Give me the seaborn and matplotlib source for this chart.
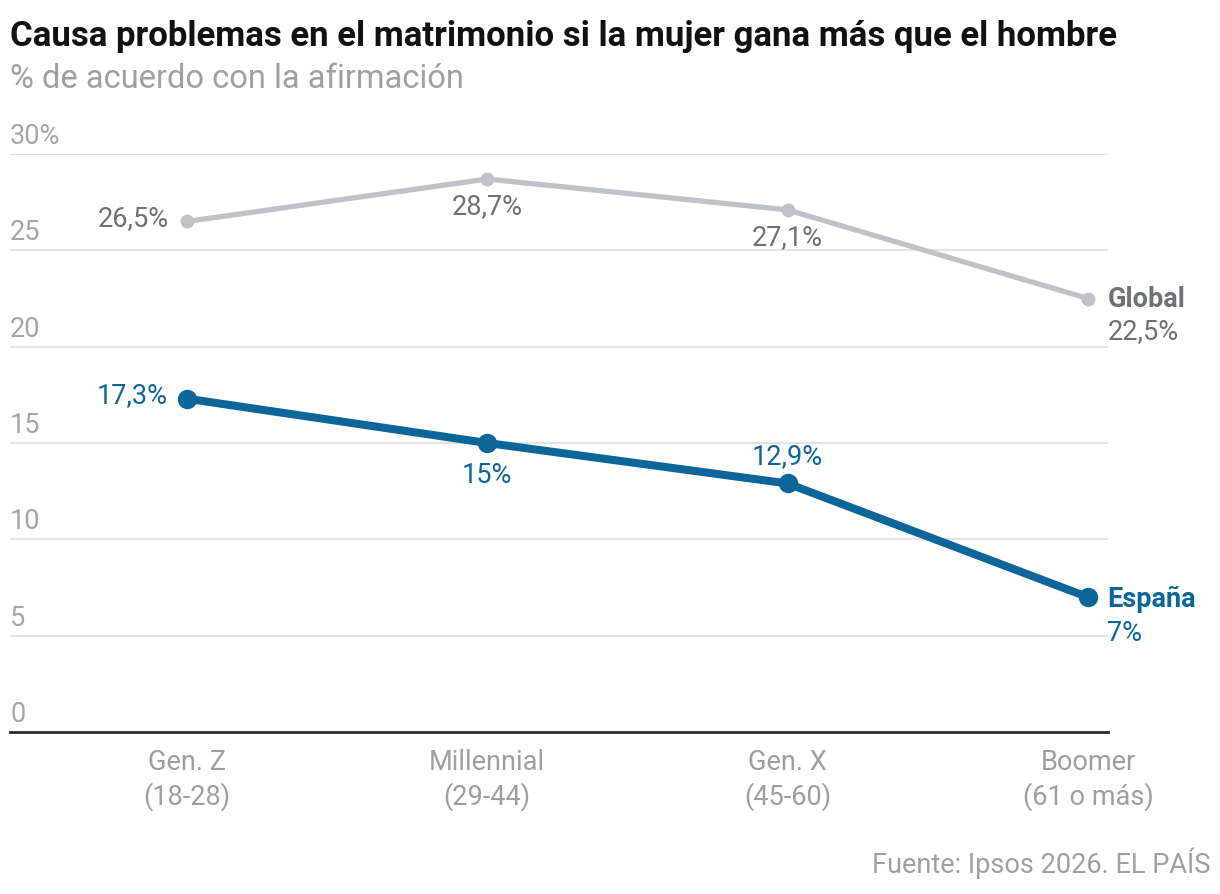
import matplotlib.pyplot as plt
import matplotlib.transforms as mtransforms
import pandas as pd
import seaborn as sns

# datos
generaciones = ['Gen. Z\n(18-28)', 'Millennial\n(29-44)', 'Gen. X\n(45-60)', 'Boomer\n(61 o más)']
global_vals = [26.5, 28.7, 27.1, 22.5]
espana_vals = [17.3, 15.0, 12.9, 7.0]
global_lbls = ['26,5%', '28,7%', '27,1%', '22,5%']
espana_lbls = ['17,3%', '15%', '12,9%', '7%']
y_ticks = [0, 5, 10, 15, 20, 25, 30]
y_tick_lbls = ['0', '5', '10', '15', '20', '25', '30%']

df = pd.DataFrame({
    'gen': list(range(4)) * 2,
    'valor': global_vals + espana_vals,
    'serie': ['Global'] * 4 + ['España'] * 4,
})

C_GLOBAL = '#bfc3c7'
C_GLOBAL_TXT = '#6f7275'
C_ESP = '#0d6699'
C_GRIS = '#9f9f9f'

sns.set_style('white')
plt.rcParams['font.family'] = ['Roboto', 'DejaVu Sans']

fig = plt.figure(figsize=(12.2, 8.94), dpi=100)
ax = fig.add_axes([10 / 1220, 1 - 732 / 894, 1098 / 1220, 578 / 894])

sns.lineplot(data=df[df.serie == 'Global'], x='gen', y='valor', color=C_GLOBAL, lw=3.8,
             marker='o', markersize=10, markeredgewidth=0, ax=ax, zorder=3)
sns.lineplot(data=df[df.serie == 'España'], x='gen', y='valor', color=C_ESP, lw=5.8,
             marker='o', markersize=14, markeredgewidth=0, ax=ax, zorder=4)

ax.set_xlim(-0.589, 3.067)
ax.set_ylim(0, 30)
ax.set_xlabel('')
ax.set_ylabel('')

# rejilla y etiquetas del eje y
trans = mtransforms.blended_transform_factory(ax.transAxes, ax.transData)
for v, lb in zip(y_ticks, y_tick_lbls):
    if v > 0:
        ax.axhline(v, color='#e3e3e3', lw=1.5, zorder=1)
    ax.annotate(lb, (0, v), xycoords=trans, xytext=(0, 3), textcoords='offset points',
                ha='left', va='bottom', fontsize=19.5, color='#a6a6a6')
ax.set_yticks([])

for s in ['top', 'right', 'left']:
    ax.spines[s].set_visible(False)
ax.spines['bottom'].set_color('#2b2b2b')
ax.spines['bottom'].set_linewidth(2)

ax.set_xticks(range(4))
ax.set_xticklabels(generaciones, fontsize=19.5, color=C_GRIS, linespacing=1.3)
ax.tick_params(axis='x', length=0, pad=12)

# etiquetas de valores
g_off = [(-13, 2, 'right', 'center'), (0, -10, 'center', 'top'), (0, -10, 'center', 'top')]
for i, (dx, dy, ha, va) in enumerate(g_off):
    ax.annotate(global_lbls[i], (i, global_vals[i]), xytext=(dx, dy), textcoords='offset points',
                ha=ha, va=va, fontsize=19.5, color=C_GLOBAL_TXT)
e_off = [(-14, 2, 'right', 'center'), (0, -14, 'center', 'top'), (0, 10, 'center', 'bottom')]
for i, (dx, dy, ha, va) in enumerate(e_off):
    ax.annotate(espana_lbls[i], (i, espana_vals[i]), xytext=(dx, dy), textcoords='offset points',
                ha=ha, va=va, fontsize=19.5, color=C_ESP)

ax.annotate('Global', (3, global_vals[3]), xytext=(14, -1), textcoords='offset points',
            ha='left', va='center', fontsize=19.5, color=C_GLOBAL_TXT, weight='bold', annotation_clip=False)
ax.annotate(global_lbls[3], (3, global_vals[3]), xytext=(14, -24), textcoords='offset points',
            ha='left', va='center', fontsize=19.5, color=C_GLOBAL_TXT, annotation_clip=False)
ax.annotate('España', (3, espana_vals[3]), xytext=(14, -2), textcoords='offset points',
            ha='left', va='center', fontsize=19.5, color=C_ESP, weight='bold', annotation_clip=False)
ax.annotate(espana_lbls[3], (3, espana_vals[3]), xytext=(14, -26), textcoords='offset points',
            ha='left', va='center', fontsize=19.5, color=C_ESP, annotation_clip=False)

# titulo, subtitulo, fuente
fig.text(10 / 1220, 1 - 46 / 894, 'Causa problemas en el matrimonio si la mujer gana más que el hombre',
         fontsize=25, weight='bold', color='#111111', ha='left', va='baseline')
fig.text(10 / 1220, 1 - 88 / 894, '% de acuerdo con la afirmación',
         fontsize=23.5, color='#a0a0a0', ha='left', va='baseline')
fig.text(1210 / 1220, 1 - 873 / 894, 'Fuente: Ipsos 2026. EL PAÍS',
         fontsize=19.5, color='#a0a0a0', ha='right', va='baseline')

fig.savefig('out.png', dpi=100)
